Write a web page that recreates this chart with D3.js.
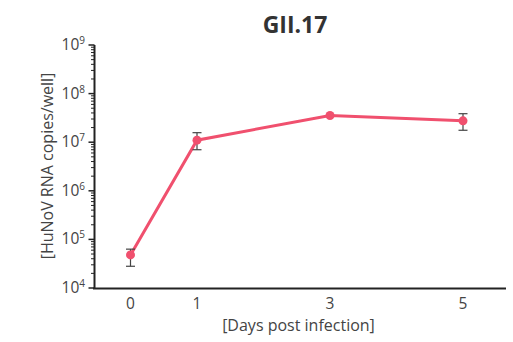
<!DOCTYPE html>
<html><head><meta charset="utf-8">
<script src="https://cdn.jsdelivr.net/npm/d3@7"></script>
<style>body{margin:0;background:#fff}svg{display:block}text{font-family:"Open Sans","Noto Sans",sans-serif}</style>
</head><body>
<svg id="c" width="513" height="342"></svg>
<script>
const days = [0, 1, 3, 5];
const means = [4.8e4, 1.1e7, 3.55e7, 2.75e7];
const errLow = [2.8e4, 7.0e6, 3.45e7, 1.76e7];
const errHigh = [6.3e4, 1.57e7, 3.65e7, 3.86e7];
const showErr = [true, true, false, true];
const xTicks = [0, 1, 3, 5];
const yExps = [4, 5, 6, 7, 8, 9];
const title = "GII.17";
const xLabel = "[Days post infection]";
const yLabel = "[HuNoV RNA copies/well]";

const svg = d3.select("#c");
const x = d3.scaleLinear().domain([0, 5]).range([130.5, 463]);
const y = d3.scaleLog().domain([1e4, 1e9]).range([288, 45]);
const axisX = 94.5, axisLeftEnd = 93, axisRightEnd = 506;
const textCol = "#444";

// y axis minor ticks
const minor = [];
for (let e = 4; e < 9; e++) for (let m = 2; m <= 9; m++) minor.push(m * Math.pow(10, e));
svg.append("g").selectAll("line").data(minor).join("line")
  .attr("x1", axisX - 3.5).attr("x2", axisX).attr("y1", d => y(d)).attr("y2", d => y(d))
  .attr("stroke", "#222").attr("stroke-width", 1);
svg.append("g").selectAll("line").data(yExps).join("line")
  .attr("x1", axisX - 6).attr("x2", axisX).attr("y1", d => y(Math.pow(10, d))).attr("y2", d => y(Math.pow(10, d)))
  .attr("stroke", "#222").attr("stroke-width", 1.5);
// y axis line
svg.append("line").attr("x1", axisX).attr("x2", axisX).attr("y1", y(1e9)).attr("y2", y(1e4) + 1)
  .attr("stroke", "#222").attr("stroke-width", 2);
// x axis line
svg.append("line").attr("x1", axisLeftEnd).attr("x2", axisRightEnd).attr("y1", y(1e4) + 0.5).attr("y2", y(1e4) + 0.5)
  .attr("stroke", "#222").attr("stroke-width", 2);

// y tick labels
const yl = svg.append("g").selectAll("text").data(yExps).join("text")
  .attr("x", 85).attr("y", d => y(Math.pow(10, d)) + 5)
  .attr("text-anchor", "end").attr("fill", textCol).attr("font-size", 15.5);
yl.append("tspan").text("10");
yl.append("tspan").text(d => d).attr("font-size", 10).attr("dy", -6);

// x tick labels
svg.append("g").selectAll("text").data(xTicks).join("text")
  .attr("x", d => x(d)).attr("y", 309).attr("text-anchor", "middle")
  .attr("fill", textCol).attr("font-size", 15.5).text(d => d);

// labels
svg.append("text").attr("x", 298.5).attr("y", 331).attr("text-anchor", "middle")
  .attr("fill", textCol).attr("font-size", 16).text(xLabel);
svg.append("text").attr("transform", "translate(53,166) rotate(-90)").attr("text-anchor", "middle")
  .attr("fill", textCol).attr("font-size", 16).text(yLabel);
svg.append("text").attr("x", 295).attr("y", 33).attr("text-anchor", "middle")
  .attr("fill", "#333").attr("font-size", 23).attr("font-weight", "bold").text(title);

// line
const data = days.map((d, i) => ({d, m: means[i], lo: errLow[i], hi: errHigh[i], e: showErr[i]}));
svg.append("path").datum(data)
  .attr("d", d3.line().x(p => x(p.d)).y(p => y(p.m)))
  .attr("fill", "none").attr("stroke", "#f0506e").attr("stroke-width", 3);

// error bars
const eb = svg.append("g").selectAll("g").data(data.filter(p => p.e)).join("g");
eb.append("line").attr("x1", p => x(p.d)).attr("x2", p => x(p.d)).attr("y1", p => y(p.lo)).attr("y2", p => y(p.hi))
  .attr("stroke", "#444").attr("stroke-width", 1.2);
eb.append("line").attr("x1", p => x(p.d) - 4.5).attr("x2", p => x(p.d) + 4.5).attr("y1", p => y(p.lo)).attr("y2", p => y(p.lo))
  .attr("stroke", "#444").attr("stroke-width", 1.2);
eb.append("line").attr("x1", p => x(p.d) - 4.5).attr("x2", p => x(p.d) + 4.5).attr("y1", p => y(p.hi)).attr("y2", p => y(p.hi))
  .attr("stroke", "#444").attr("stroke-width", 1.2);

// points
svg.append("g").selectAll("circle").data(data).join("circle")
  .attr("cx", p => x(p.d)).attr("cy", p => y(p.m)).attr("r", 4.5).attr("fill", "#f0506e");
</script>
</body></html>
